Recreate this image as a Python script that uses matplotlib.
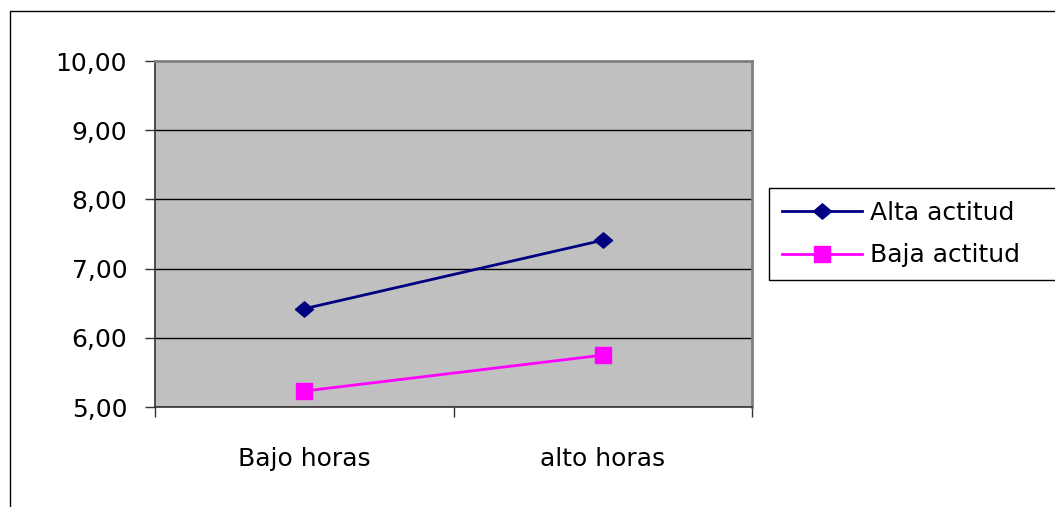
import matplotlib
matplotlib.use("Agg")
import matplotlib.pyplot as plt
from matplotlib.patches import Rectangle
from matplotlib.path import Path

categories = ["Bajo horas", "alto horas"]
alta_actitud = [6.42, 7.41]
baja_actitud = [5.23, 5.75]
series_names = ["Alta actitud", "Baja actitud"]
y_ticks = [5, 6, 7, 8, 9, 10]
y_tick_labels = ["5,00", "6,00", "7,00", "8,00", "9,00", "10,00"]

plt.rcParams['font.family'] = ['DejaVu Sans']
FS = 18

fig = plt.figure(figsize=(10.55, 5.07), dpi=100)
W, H = 1055, 507
ax = fig.add_axes([155 / W, 1 - 407 / H, (752 - 155) / W, (407 - 61) / H])
ax.set_facecolor("#C0C0C0")

diamond = Path([(-1, 0), (0, 0.85), (1, 0), (0, -0.85), (-1, 0)],
               [Path.MOVETO, Path.LINETO, Path.LINETO, Path.LINETO, Path.CLOSEPOLY])

x = list(range(len(categories)))
ax.plot(x, alta_actitud, color="#000080", lw=2, marker=diamond, ms=13,
        mfc="#000080", mec="#000080", label=series_names[0], zorder=3)
ax.plot(x, baja_actitud, color="#FF00FF", lw=2, marker="s", ms=12,
        mfc="#FF00FF", mec="#FF00FF", label=series_names[1], zorder=3)

ax.set_xlim(-0.5, 1.5)
ax.set_ylim(5, 10)
ax.set_yticks(y_ticks)
ax.set_yticklabels(y_tick_labels, fontsize=FS)
ax.set_xticks([-0.5, 0.5, 1.5], minor=False)
ax.set_xticklabels([])
ax.set_xticks(x, minor=True)
ax.set_xticklabels(categories, minor=True, fontsize=FS)
ax.tick_params(axis="x", which="major", length=7, width=1, color="#333333", direction="out")
ax.tick_params(axis="x", which="minor", length=0, pad=29)
ax.tick_params(axis="y", length=7, width=1, color="#333333", direction="out", pad=13)
ax.yaxis.grid(True, color="black", lw=1)
ax.set_axisbelow(True)

for s in ["top", "right"]:
    ax.spines[s].set_color("#808080")
    ax.spines[s].set_linewidth(2)
for s in ["left", "bottom"]:
    ax.spines[s].set_color("#333333")
    ax.spines[s].set_linewidth(1.2)

leg = fig.legend(loc="upper left",
                 bbox_to_anchor=(769 / W, 1 - 188 / H, (1080 - 769) / W, 0.0),
                 mode="expand",
                 fontsize=FS, frameon=True, fancybox=False, edgecolor="black",
                 framealpha=1, handlelength=3.2, handletextpad=0.35,
                 borderpad=0.5, labelspacing=0.75, borderaxespad=0)
leg.get_frame().set_linewidth(1)

fig.add_artist(Rectangle((10 / W, -0.05), 1.1, 1 - 11 / H + 0.05,
                         transform=fig.transFigure, fill=False,
                         edgecolor="black", lw=1, clip_on=False))

fig.savefig("out.png", dpi=100)
